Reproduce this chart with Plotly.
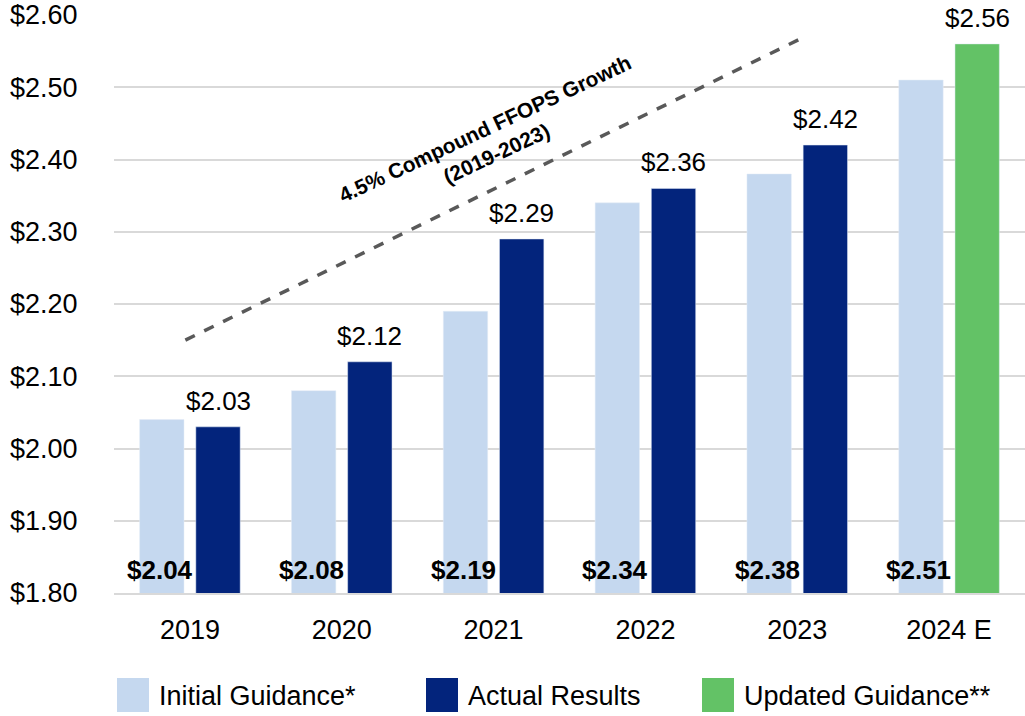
import plotly.graph_objects as go

# ---------------- data ----------------
categories = ["2019", "2020", "2021", "2022", "2023", "2024 E"]
initial_guidance = [2.04, 2.08, 2.19, 2.34, 2.38, 2.51]
actual_results = [2.03, 2.12, 2.29, 2.36, 2.42, None]
updated_guidance = [None, None, None, None, None, 2.56]
y_tick_values = [1.80, 1.90, 2.00, 2.10, 2.20, 2.30, 2.40, 2.50, 2.60]
series_names = ["Initial Guidance*", "Actual Results", "Updated Guidance**"]
growth_label = "4.5% Compound FFOPS Growth<br>(2019-2023)"
growth_line_x = [-0.03, 4.05]
growth_line_y = [2.15, 2.57]
growth_label_pos = (1.98, 2.425)

# ---------------- style ----------------
W, H = 1025, 716
M_L, M_R, M_T, M_B = 114, 0, 15, 123
COL_LIGHT = "#C5D8EF"
COL_NAVY = "#03247C"
COL_GREEN = "#63C266"
FONT = "Liberation Sans, Arial, sans-serif"
BARGAP = 0.26
BARGROUPGAP = 0.21

fig = go.Figure()
fig.add_trace(go.Bar(x=categories, y=initial_guidance, name=series_names[0],
                     marker_color=COL_LIGHT, offsetgroup="g1", showlegend=False))
fig.add_trace(go.Bar(x=categories, y=actual_results, name=series_names[1],
                     marker_color=COL_NAVY, offsetgroup="g2", showlegend=False))
fig.add_trace(go.Bar(x=categories, y=updated_guidance, name=series_names[2],
                     marker_color=COL_GREEN, offsetgroup="g2", showlegend=False))

plot_w = W - M_L - M_R
cat_px = plot_w / len(categories)
slot = (1 - BARGAP) / 2
light_shift = -slot / 2 * cat_px
dark_shift = slot / 2 * cat_px

# bold initial-guidance labels at the base of the light bars
for i, v in enumerate(initial_guidance):
    fig.add_annotation(x=i, y=y_tick_values[0], xref="x", yref="y",
                       text=f"<b>${v:.2f}</b>",
                       showarrow=False, yanchor="bottom", xanchor="center",
                       xshift=light_shift - 2, yshift=6,
                       font=dict(size=26, color="black", family=FONT))

# value labels above actual / updated bars
for i, (a, u) in enumerate(zip(actual_results, updated_guidance)):
    v = a if a is not None else u
    if v is None:
        continue
    fig.add_annotation(x=i, y=v, xref="x", yref="y", text=f"${v:.2f}",
                       showarrow=False, yanchor="bottom", xanchor="center",
                       xshift=dark_shift, yshift=9,
                       font=dict(size=26, color="black", family=FONT))

# dashed growth line + label
fig.add_shape(type="line", xref="x", yref="y",
              x0=growth_line_x[0], y0=growth_line_y[0],
              x1=growth_line_x[1], y1=growth_line_y[1],
              line=dict(color="#595959", width=3.5, dash="dash"))
fig.add_annotation(x=growth_label_pos[0], y=growth_label_pos[1], xref="x", yref="y",
                   text=f"<b>{growth_label}</b>", showarrow=False, textangle=-25,
                   font=dict(size=21, color="black", family=FONT))

# manual legend (large square swatches)
plot_h = H - M_T - M_B
legend_items = [(117, COL_LIGHT), (426, COL_NAVY), (702, COL_GREEN)]
for (px, col), name in zip(legend_items, series_names):
    x0 = (px - M_L) / plot_w
    x1 = (px + 32 - M_L) / plot_w
    y0 = (H - M_B - 712) / plot_h
    y1 = (H - M_B - 678) / plot_h
    fig.add_shape(type="rect", xref="paper", yref="paper", x0=x0, x1=x1, y0=y0, y1=y1,
                  fillcolor=col, line=dict(width=0))
    fig.add_annotation(xref="paper", yref="paper", x=(px + 40 - M_L) / plot_w,
                       y=(H - M_B - 696) / plot_h, text=name, showarrow=False,
                       xanchor="left", yanchor="middle",
                       font=dict(size=27, color="black", family=FONT))

fig.update_layout(
    width=W, height=H, autosize=False,
    margin=dict(l=M_L, r=M_R, t=M_T, b=M_B, pad=0),
    barmode="group", bargap=BARGAP, bargroupgap=BARGROUPGAP,
    plot_bgcolor="white", paper_bgcolor="white",
    font=dict(family=FONT, size=27, color="black"),
    showlegend=False,
)
fig.update_yaxes(range=[1.80, 2.60], tickvals=y_tick_values, tickformat="$.2f",
                 showgrid=True, gridcolor="#D9D9D9", gridwidth=1.5,
                 zeroline=False, showline=False,
                 ticks="outside", ticklen=30, tickcolor="rgba(0,0,0,0)",
                 tickfont=dict(size=27, color="black", family=FONT))
fig.update_xaxes(type="category", categoryorder="array", categoryarray=categories,
                 range=[-0.5, len(categories) - 0.5], autorange=False,
                 showgrid=False, showline=True, linecolor="#D9D9D9", linewidth=1.5,
                 ticks="outside", ticklen=12, tickcolor="rgba(0,0,0,0)",
                 tickfont=dict(size=27, color="black", family=FONT))

fig.write_html("out.html", config={"displayModeBar": False},
               post_script="document.body.style.margin='0';")
